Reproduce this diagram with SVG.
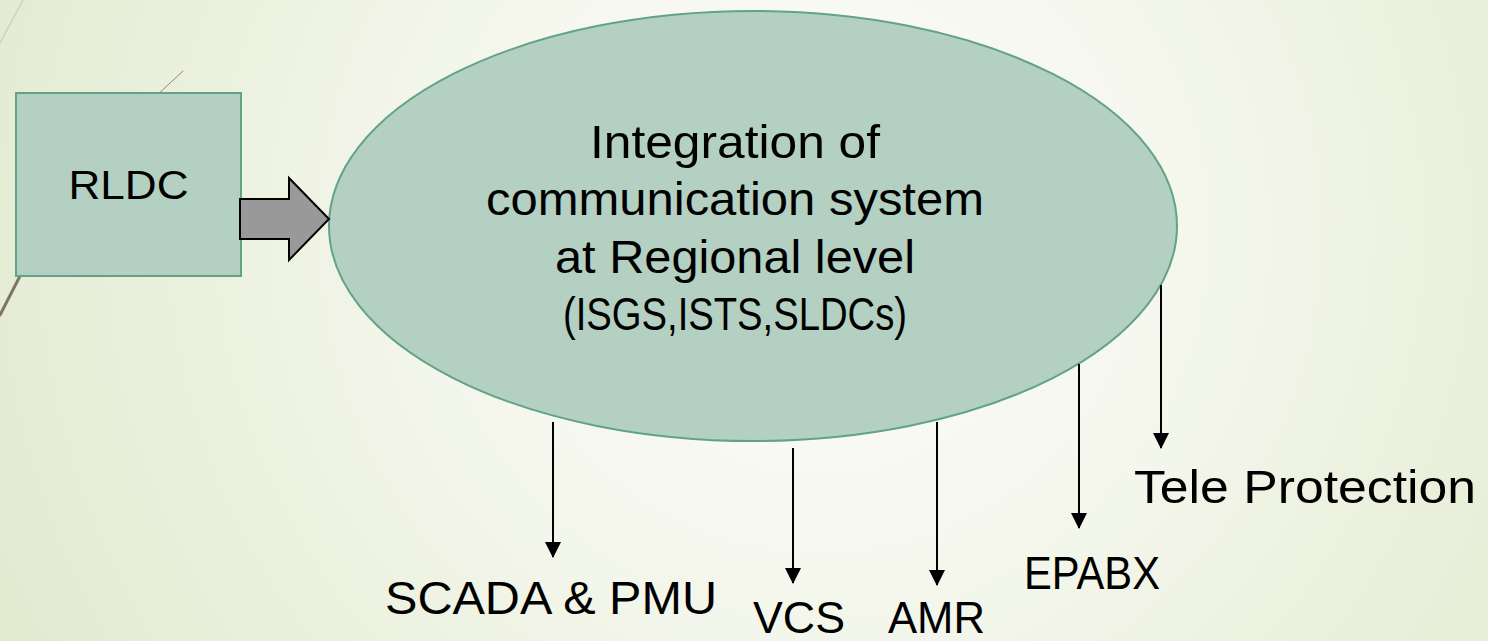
<svg xmlns="http://www.w3.org/2000/svg" width="1488" height="641" viewBox="0 0 1488 641">
  <defs>
    <radialGradient id="bg" cx="820" cy="230" r="900" gradientUnits="userSpaceOnUse">
      <stop offset="0" stop-color="#fcfdfa"/>
      <stop offset="0.35" stop-color="#f6f8ef"/>
      <stop offset="1" stop-color="#e3ead0"/>
    </radialGradient>
    <marker id="ah" markerWidth="8" markerHeight="8" refX="7.5" refY="4" orient="auto" markerUnits="strokeWidth">
      <path d="M0,0 L8,4 L0,8 Z" fill="#000"/>
    </marker>
    <style>
      .lbl { font-family: "Liberation Sans", Arial, sans-serif; fill: #000; }
      .node { fill: #b3d0c2; stroke: #62a387; stroke-width: 2; }
      .conn { stroke: #000; stroke-width: 2; fill: none; marker-end: url(#ah); }
      .deco { fill: none; stroke-linecap: round; }
    </style>
  </defs>
  <rect x="0" y="0" width="1488" height="641" fill="url(#bg)"/>

  <g id="decoration">
    <line class="deco" x1="0" y1="43" x2="23" y2="0" stroke="#cfcfc2" stroke-width="1.5"/>
    <line class="deco" x1="140" y1="111" x2="183" y2="71" stroke="#8f8676" stroke-width="1"/>
    <line class="deco" x1="40" y1="237" x2="0" y2="315" stroke="#7d7465" stroke-width="3"/>
  </g>

  <g id="node-rldc">
    <rect class="node" x="16" y="93" width="225" height="183" stroke-width="1.5"/>
    <text class="lbl" x="128.5" y="199" font-size="40" text-anchor="middle" textLength="120" lengthAdjust="spacingAndGlyphs">RLDC</text>
  </g>

  <g id="node-integration">
    <ellipse class="node" cx="753" cy="226" rx="424" ry="215"/>
    <text class="lbl" font-size="47" text-anchor="middle" x="735" y="158" textLength="290" lengthAdjust="spacingAndGlyphs">Integration of</text>
    <text class="lbl" font-size="47" text-anchor="middle" x="735" y="215" textLength="498" lengthAdjust="spacingAndGlyphs">communication system</text>
    <text class="lbl" font-size="47" text-anchor="middle" x="735" y="273" textLength="360" lengthAdjust="spacingAndGlyphs">at Regional level</text>
    <text class="lbl" font-size="46" text-anchor="middle" x="735" y="330" textLength="344" lengthAdjust="spacingAndGlyphs">(ISGS,ISTS,SLDCs)</text>
  </g>

  <g id="label-scada"><text class="lbl" x="385" y="614" font-size="46" textLength="332" lengthAdjust="spacingAndGlyphs">SCADA &amp; PMU</text></g>
  <g id="label-vcs"><text class="lbl" x="753" y="633" font-size="45" textLength="92" lengthAdjust="spacingAndGlyphs">VCS</text></g>
  <g id="label-amr"><text class="lbl" x="888" y="633" font-size="45" textLength="97" lengthAdjust="spacingAndGlyphs">AMR</text></g>
  <g id="label-epabx"><text class="lbl" x="1024" y="589" font-size="46" textLength="136" lengthAdjust="spacingAndGlyphs">EPABX</text></g>
  <g id="label-tele"><text class="lbl" x="1134" y="503" font-size="46" textLength="342" lengthAdjust="spacingAndGlyphs">Tele Protection</text></g>

  <g id="connectors">
    <path d="M240,199 H289 V178 L329,219 L289,260 V239 H240 Z" fill="#999999" stroke="#000" stroke-width="2" stroke-linejoin="miter"/>
    <line class="conn" x1="553" y1="422" x2="553" y2="557"/>
    <line class="conn" x1="793" y1="448" x2="793" y2="583"/>
    <line class="conn" x1="937" y1="422" x2="937" y2="585"/>
    <line class="conn" x1="1079" y1="364" x2="1079" y2="528"/>
    <line class="conn" x1="1161" y1="285" x2="1161" y2="448"/>
  </g>
</svg>
